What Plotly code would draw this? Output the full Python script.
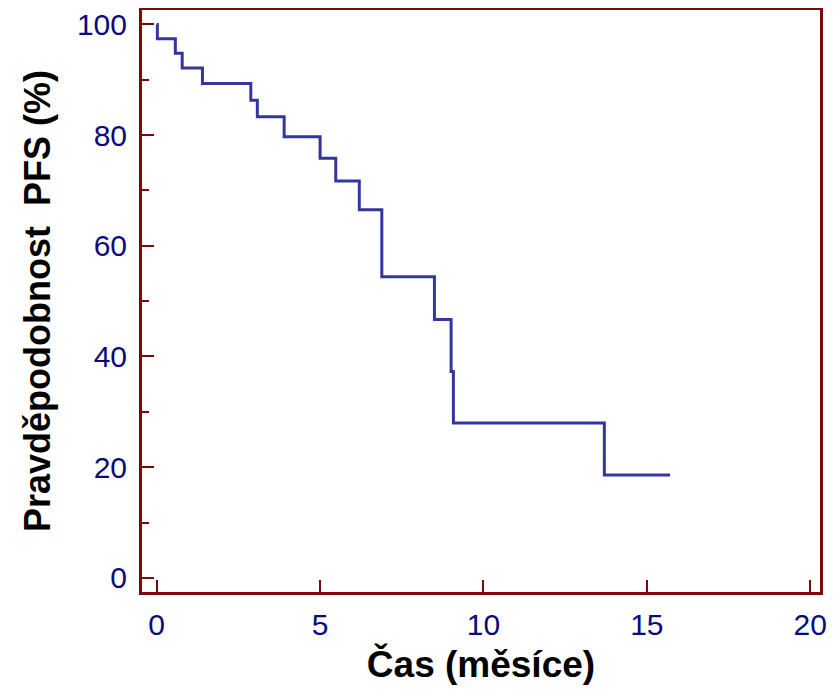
import plotly.graph_objects as go

# Kaplan-Meier PFS step curve (time in months, survival in %)
time_months = [0.0, 0.02, 0.57, 0.78, 1.40, 2.88, 3.08, 3.90, 5.00, 5.48, 6.20, 6.89, 8.50, 9.01, 9.08, 13.70, 15.71]
pfs_percent = [100.0, 97.4, 94.8, 92.1, 89.3, 86.3, 83.3, 79.7, 75.8, 71.7, 66.5, 54.4, 46.7, 37.3, 28.0, 18.6, 18.6]

x_ticks = [0, 5, 10, 15, 20]
y_ticks = [0, 20, 40, 60, 80, 100]
y_minor = [10, 30, 50, 70, 90]

frame = "#7a0a0a"
navy = "#0a0a80"

fig = go.Figure()
fig.add_trace(go.Scatter(
    x=time_months, y=pfs_percent, mode="lines",
    line=dict(shape="hv", color="#3535a0", width=3),
    showlegend=False, hoverinfo="skip",
))

fig.update_layout(
    width=831, height=685,
    margin=dict(l=134, r=19, t=2, b=101),
    paper_bgcolor="white", plot_bgcolor="white",
    font=dict(family="Liberation Sans, Arial, sans-serif"),
    xaxis=dict(
        range=[-0.45, 20.3], tickvals=x_ticks, ticktext=[str(v) for v in x_ticks],
        showgrid=False, zeroline=False, automargin=False,
        showline=True, mirror=True, linecolor=frame, linewidth=3,
        ticks="inside", ticklen=12, tickwidth=1.5, tickcolor=frame,
        ticklabelstandoff=4, ticklabeloverflow="allow",
        tickfont=dict(size=30, color=navy),
        title=dict(text="<b>Čas (měsíce)</b>", font=dict(size=37, color="black"), standoff=12),
    ),
    yaxis=dict(
        range=[-2.55, 102.6], tickvals=y_ticks, ticktext=[str(v) for v in y_ticks],
        showgrid=False, zeroline=False, automargin=False,
        showline=True, mirror=True, linecolor=frame, linewidth=3,
        ticks="inside", ticklen=12, tickwidth=1.5, tickcolor=frame,
        ticklabelstandoff=6, ticklabeloverflow="allow",
        tickfont=dict(size=30, color=navy),
        minor=dict(tickvals=y_minor, ticks="inside", ticklen=7, tickwidth=1.5, tickcolor=frame),
        title=dict(text="<b>Pravděpodobnost\u00a0\u00a0PFS (%)</b>", font=dict(size=36, color="black"), standoff=16),
    ),
)

fig.write_html("out.html")
